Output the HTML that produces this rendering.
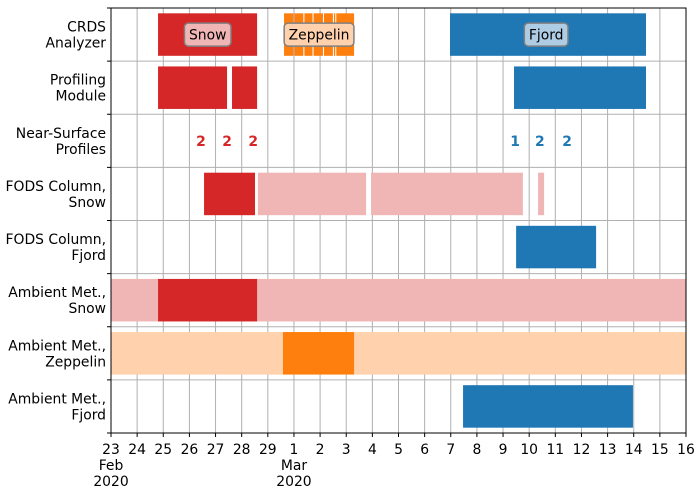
<!DOCTYPE html>
<html><head><meta charset="utf-8"><style>
body{margin:0;background:#fff}
svg{font-family:"DejaVu Sans","Liberation Sans",sans-serif}
</style></head><body>
<svg id="chart" width="699" height="493" xmlns="http://www.w3.org/2000/svg"></svg>
<script>
// x data in days since Feb 23 2020
const rowLabels = [["CRDS","Analyzer"],["Profiling","Module"],["Near-Surface","Profiles"],["FODS Column,","Snow"],["FODS Column,","Fjord"],["Ambient Met.,","Snow"],["Ambient Met.,","Zeppelin"],["Ambient Met.,","Fjord"]];
const tickLabels = ["23","24","25","26","27","28","29","1","2","3","4","5","6","7","8","9","10","11","12","13","14","15","16"];
// bars: [row, start, end, color]
const bars = [
 [0,1.80,5.59,"#d62728"],
 [0,6.62,6.98,"#ff7f0e"],[0,7.02,7.36,"#ff7f0e"],[0,7.40,7.71,"#ff7f0e"],[0,7.75,8.11,"#ff7f0e"],[0,8.15,8.49,"#ff7f0e"],[0,8.53,8.58,"#ff7f0e"],[0,8.62,9.30,"#ff7f0e"],
 [0,12.97,20.47,"#1f77b4"],
 [1,1.80,4.44,"#d62728"],[1,4.63,5.59,"#d62728"],[1,15.42,20.47,"#1f77b4"],
 [3,3.56,5.51,"#d62728"],[3,5.62,9.76,"#f0b6b6"],[3,9.95,15.76,"#f0b6b6"],[3,16.34,16.57,"#f0b6b6"],
 [4,15.50,18.56,"#1f77b4"],
 [5,0,22,"#f0b6b6"],[5,1.80,5.59,"#d62728"],
 [6,0,22,"#ffd1ac"],[6,6.58,9.30,"#ff7f0e"],
 [7,13.47,19.97,"#1f77b4"]
];
// near-surface profile counts
const profileDays = [3.44,4.44,5.44,15.46,16.41,17.45];
const profileCounts = ["2","2","2","1","2","2"];
const profileColors = ["#d62728","#d62728","#d62728","#1f77b4","#1f77b4","#1f77b4"];
const siteLabels = [["Snow",3.7,"#f0b6b6"],["Zeppelin",7.96,"#ffd1ac"],["Fjord",16.65,"#aecde4"]];

const FS=13.9;
const svg=document.getElementById('chart');
const NS="http://www.w3.org/2000/svg";
const L=111,R=686,T=8,B=433,rowH=(B-T)/8;
const xs=d=>L+d*(R-L)/22;
const ys=r=>T+r*rowH;
function mk(tag,attrs,parent){const e=document.createElementNS(NS,tag);for(const k in attrs)e.setAttribute(k,attrs[k]);(parent||svg).appendChild(e);return e;}

for(let i=0;i<=22;i++){
 const g=mk('line',{x1:xs(i),x2:xs(i),y1:T,y2:B,stroke:'#b0b0b0','stroke-width':1});
 
 
}
for(let r=1;r<8;r++){
 const g=mk('line',{x1:L,x2:R,y1:ys(r),y2:ys(r),stroke:'#b0b0b0','stroke-width':1});
 
 
}
bars.forEach(b=>{
 const y=ys(b[0])+rowH*0.1;
 const e=mk('rect',{x:xs(b[1]),y:y,width:xs(b[2])-xs(b[1]),height:rowH*0.8,fill:b[3]});
 
 
});
profileDays.forEach((d,i)=>{
 const t=mk('text',{x:xs(d),y:ys(2)+rowH/2+5,'text-anchor':'middle','font-size':FS,'font-weight':'bold',fill:profileColors[i]});
 t.textContent=profileCounts[i];
 
 
});
siteLabels.forEach(s=>{
 const cx=xs(s[1]),cy=ys(0)+rowH/2;
 const r=mk('rect',{x:cx,y:cy-11.5,width:10,height:23,rx:4,fill:s[2],stroke:'#808080','stroke-width':1.5});
 
 
 const t=mk('text',{x:cx,y:cy+5,'text-anchor':'middle','font-size':FS,fill:'#000'});
 t.textContent=s[0];
 
 
 const w=t.getBBox().width+9;
 r.setAttribute('x',cx-w/2);r.setAttribute('width',w);
});
const f=mk('rect',{x:L,y:T,width:R-L,height:B-T,fill:'none',stroke:'#000','stroke-width':1});


for(let r=0;r<=8;r++){
 const t=mk('line',{x1:L-4,x2:L,y1:ys(r),y2:ys(r),stroke:'#000'});
 
 
}
rowLabels.forEach((lab,r)=>{
 const cy=ys(r)+rowH/2;
 const t=mk('text',{x:106,y:cy-3,'text-anchor':'end','font-size':FS,fill:'#000'});
 
 
 const a=mk('tspan',{x:106,dy:0},t);a.textContent=lab[0];
 const b=mk('tspan',{x:106,dy:16},t);b.textContent=lab[1];
});
tickLabels.forEach((lab,i)=>{
 const t=mk('line',{x1:xs(i),x2:xs(i),y1:B,y2:B+4,stroke:'#000'});
 
 
 const tx=mk('text',{x:xs(i),y:454,'text-anchor':'middle','font-size':FS,fill:'#000'});
 tx.textContent=lab;
 
 
});
[["Feb",0],["Mar",7]].forEach(m=>{
 const t=mk('text',{x:xs(m[1]),y:470,'text-anchor':'middle','font-size':FS,fill:'#000'});
 t.textContent=m[0];
 
 
 const y=mk('text',{x:xs(m[1]),y:486,'text-anchor':'middle','font-size':FS,fill:'#000'});
 y.textContent="2020";
 
 
});
</script>
</body></html>
